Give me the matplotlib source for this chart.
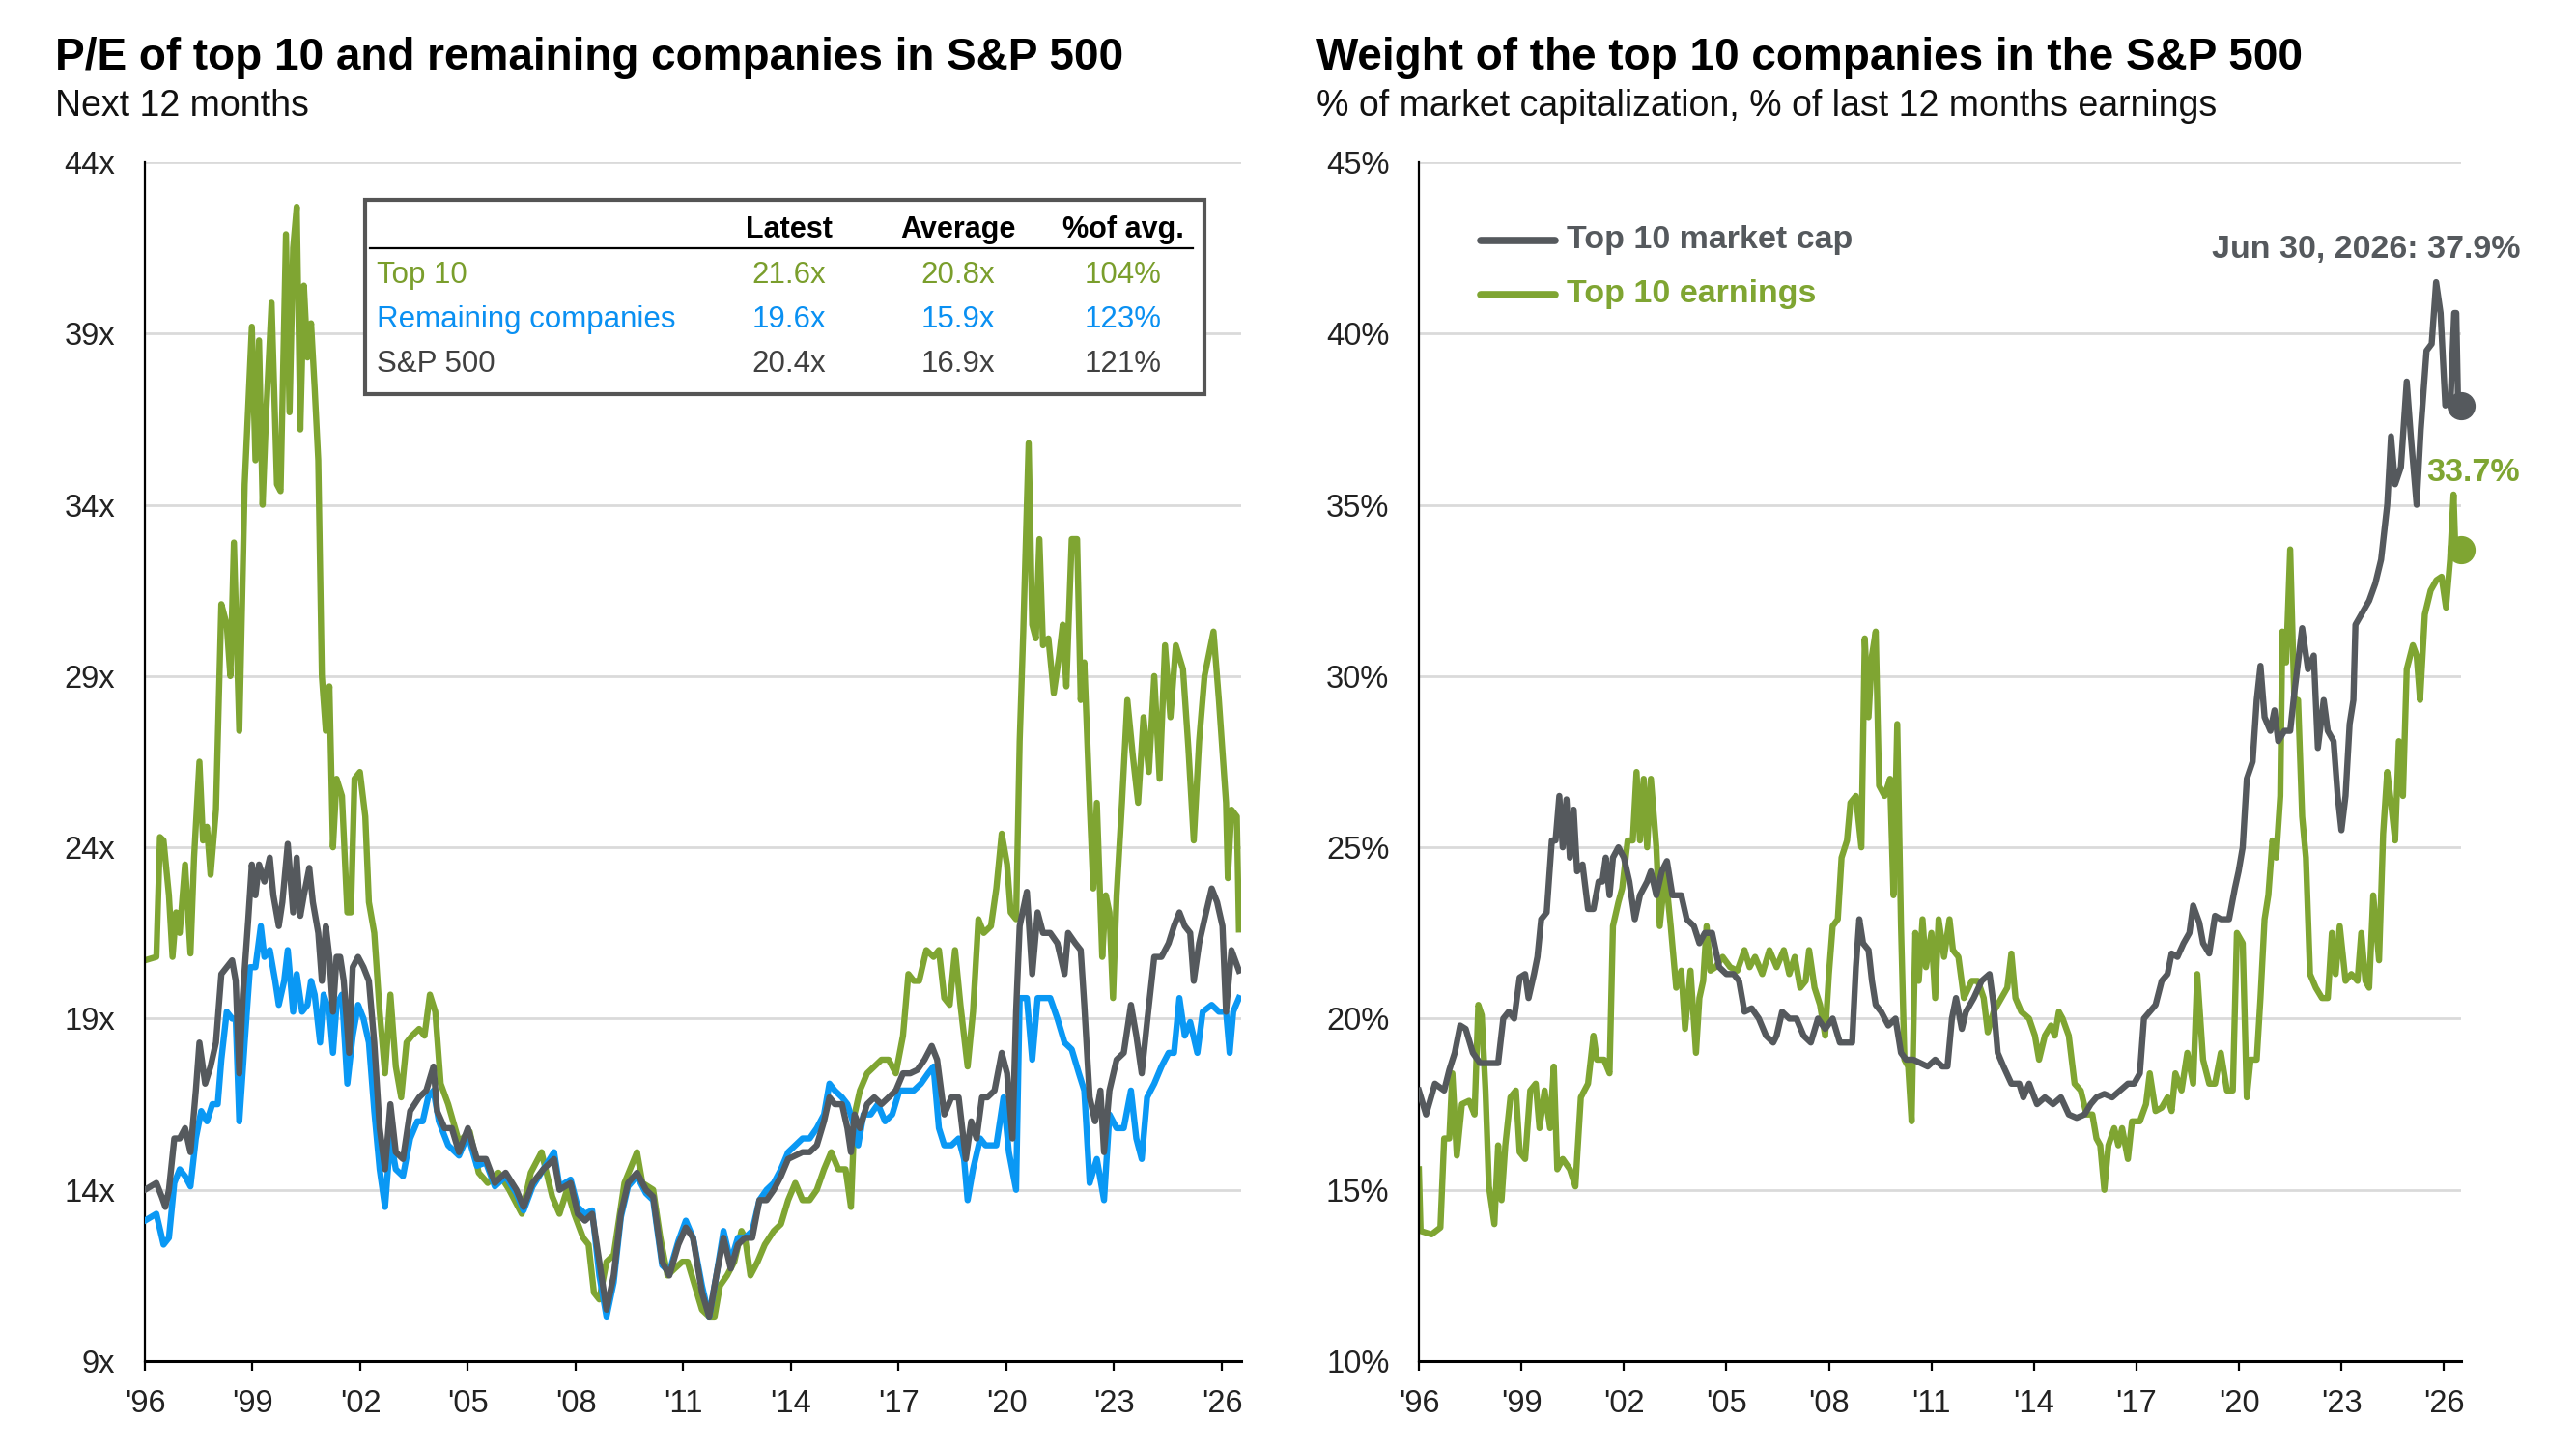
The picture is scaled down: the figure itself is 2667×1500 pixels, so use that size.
import matplotlib
matplotlib.use("Agg")
import matplotlib.pyplot as plt
from matplotlib.patches import Rectangle
from matplotlib.lines import Line2D
from matplotlib.ticker import FixedLocator, FuncFormatter

plt.rcParams['font.family'] = ['Liberation Sans', 'DejaVu Sans']

# ---------------- DATA ----------------
# Left panel: forward P/E (decimal year, value)
PE_TOP10 = [(1996.00,20.7),(1996.32,20.8),(1996.42,24.3),(1996.52,24.2),(1996.67,22.6),(1996.77,20.8),(1996.87,22.1),(1996.97,21.5),(1997.12,23.5),(1997.27,20.9),(1997.37,23.7),(1997.52,26.5),(1997.62,24.2),(1997.73,24.6),(1997.83,23.2),(1997.98,25.1),(1998.13,31.1),(1998.28,30.5),(1998.38,29.0),(1998.48,32.9),(1998.63,27.4),(1998.78,34.6),(1998.98,39.2),(1999.08,35.3),(1999.18,38.8),(1999.28,34.0),(1999.38,36.7),(1999.53,39.9),(1999.68,34.6),(1999.78,34.4),(1999.93,41.9),(2000.03,36.7),(2000.13,41.5),(2000.23,42.7),(2000.33,36.2),(2000.43,40.4),(2000.53,38.3),(2000.63,39.3),(2000.73,37.4),(2000.83,35.3),(2000.93,29.0),(2001.04,27.4),(2001.14,28.7),(2001.24,24.0),(2001.34,26.0),(2001.49,25.5),(2001.64,22.1),(2001.74,22.1),(2001.84,26.0),(2001.99,26.2),(2002.14,24.9),(2002.24,22.4),(2002.39,21.5),(2002.54,19.2),(2002.69,17.4),(2002.84,19.7),(2002.99,17.6),(2003.14,16.7),(2003.29,18.3),(2003.44,18.5),(2003.64,18.7),(2003.79,18.5),(2003.94,19.7),(2004.09,19.2),(2004.24,17.1),(2004.45,16.5),(2004.75,15.4),(2005.05,15.7),(2005.30,14.5),(2005.55,14.2),(2005.85,14.5),(2006.15,14.0),(2006.50,13.3),(2006.75,14.5),(2007.05,15.1),(2007.35,13.8),(2007.55,13.3),(2007.76,14.0),(2007.96,13.3),(2008.21,12.6),(2008.36,12.4),(2008.51,11.0),(2008.66,10.8),(2008.86,11.9),(2009.06,12.1),(2009.36,14.2),(2009.71,15.1),(2009.86,14.2),(2010.16,14.0),(2010.36,12.6),(2010.56,11.5),(2010.76,11.7),(2010.97,11.9),(2011.12,11.9),(2011.32,11.2),(2011.52,10.5),(2011.72,10.3),(2011.87,10.3),(2012.02,11.2),(2012.22,11.5),(2012.42,11.9),(2012.62,12.8),(2012.72,12.6),(2012.87,11.5),(2013.07,11.9),(2013.27,12.4),(2013.52,12.8),(2013.72,13.0),(2013.92,13.7),(2014.12,14.2),(2014.32,13.7),(2014.52,13.7),(2014.72,14.0),(2014.92,14.6),(2015.12,15.1),(2015.32,14.6),(2015.52,14.6),(2015.67,13.5),(2015.77,16.2),(2015.92,16.9),(2016.12,17.4),(2016.32,17.6),(2016.52,17.8),(2016.72,17.8),(2016.92,17.4),(2017.12,18.5),(2017.27,20.3),(2017.42,20.1),(2017.57,20.1),(2017.77,21.0),(2017.97,20.8),(2018.12,21.0),(2018.27,19.6),(2018.42,19.4),(2018.57,21.0),(2018.72,19.4),(2018.92,17.6),(2019.07,19.2),(2019.22,21.9),(2019.37,21.5),(2019.57,21.7),(2019.72,22.8),(2019.87,24.4),(2020.02,23.5),(2020.12,22.1),(2020.27,21.9),(2020.37,27.1),(2020.47,30.3),(2020.62,35.8),(2020.72,30.5),(2020.82,30.1),(2020.92,33.0),(2021.02,29.9),(2021.17,30.1),(2021.32,28.5),(2021.47,29.6),(2021.57,30.5),(2021.67,28.7),(2021.82,33.0),(2021.97,33.0),(2022.07,28.3),(2022.17,29.4),(2022.32,25.3),(2022.42,22.8),(2022.52,25.3),(2022.67,20.8),(2022.77,22.6),(2022.87,22.1),(2022.97,19.6),(2023.07,22.6),(2023.22,25.3),(2023.37,28.3),(2023.52,26.7),(2023.67,25.3),(2023.82,27.8),(2023.97,26.2),(2024.12,29.0),(2024.27,26.0),(2024.42,29.9),(2024.57,27.8),(2024.72,29.9),(2024.92,29.2),(2025.07,26.9),(2025.22,24.2),(2025.37,27.1),(2025.52,29.0),(2025.77,30.3),(2025.92,28.3),(2026.12,25.3),(2026.17,23.1),(2026.27,25.1),(2026.42,24.9),(2026.48,21.6)]

PE_REMAINING = [(1996.00,13.1),(1996.32,13.3),(1996.52,12.4),(1996.67,12.6),(1996.82,14.2),(1996.97,14.6),(1997.12,14.4),(1997.27,14.1),(1997.42,15.5),(1997.57,16.3),(1997.73,16.0),(1997.88,16.5),(1998.03,16.5),(1998.13,17.8),(1998.28,19.2),(1998.43,19.0),(1998.53,19.0),(1998.63,16.0),(1998.78,18.3),(1998.93,20.5),(1999.08,20.5),(1999.23,21.7),(1999.33,20.8),(1999.48,21.0),(1999.63,20.1),(1999.73,19.4),(1999.88,20.1),(1999.98,21.0),(2000.13,19.2),(2000.23,20.3),(2000.38,19.2),(2000.53,19.4),(2000.63,20.1),(2000.73,19.7),(2000.88,18.3),(2000.98,19.7),(2001.14,19.2),(2001.24,18.0),(2001.34,19.4),(2001.49,19.7),(2001.64,17.1),(2001.79,18.5),(2001.94,19.4),(2002.09,19.0),(2002.24,18.3),(2002.39,16.3),(2002.54,14.6),(2002.69,13.5),(2002.84,15.5),(2002.99,14.6),(2003.19,14.4),(2003.39,15.5),(2003.59,16.0),(2003.74,16.0),(2003.89,16.7),(2004.04,16.9),(2004.19,16.0),(2004.45,15.3),(2004.75,15.0),(2005.00,15.6),(2005.25,14.7),(2005.50,14.8),(2005.75,14.1),(2006.05,14.4),(2006.35,13.9),(2006.55,13.4),(2006.80,14.1),(2007.10,14.6),(2007.40,15.1),(2007.55,14.1),(2007.86,14.3),(2008.06,13.5),(2008.26,13.3),(2008.46,13.4),(2008.66,11.5),(2008.86,10.3),(2009.06,11.3),(2009.26,13.2),(2009.46,14.1),(2009.71,14.4),(2009.96,13.9),(2010.16,13.7),(2010.41,11.8),(2010.61,11.6),(2010.86,12.5),(2011.07,13.1),(2011.27,12.6),(2011.52,11.2),(2011.72,10.3),(2011.92,11.5),(2012.12,12.8),(2012.32,11.9),(2012.52,12.6),(2012.72,12.6),(2012.92,12.8),(2013.12,13.7),(2013.32,14.0),(2013.52,14.2),(2013.72,14.6),(2013.92,15.1),(2014.12,15.3),(2014.32,15.5),(2014.52,15.5),(2014.72,15.8),(2014.92,16.2),(2015.07,17.1),(2015.22,16.9),(2015.42,16.7),(2015.57,16.5),(2015.72,16.0),(2015.87,15.3),(2016.02,16.2),(2016.22,16.2),(2016.42,16.5),(2016.62,16.0),(2016.82,16.2),(2017.02,16.9),(2017.22,16.9),(2017.42,16.9),(2017.62,17.1),(2017.82,17.4),(2017.97,17.6),(2018.12,15.8),(2018.27,15.3),(2018.47,15.3),(2018.67,15.5),(2018.82,14.9),(2018.92,13.7),(2019.07,14.6),(2019.27,15.5),(2019.42,15.3),(2019.57,15.3),(2019.72,15.3),(2019.92,16.7),(2020.07,15.1),(2020.27,14.0),(2020.37,19.6),(2020.57,19.6),(2020.72,17.8),(2020.87,19.6),(2021.02,19.6),(2021.22,19.6),(2021.42,19.0),(2021.62,18.3),(2021.82,18.1),(2022.02,17.4),(2022.17,16.9),(2022.32,14.2),(2022.52,14.9),(2022.72,13.7),(2022.87,16.2),(2023.07,15.8),(2023.27,15.8),(2023.47,16.9),(2023.62,15.5),(2023.77,14.9),(2023.92,16.7),(2024.12,17.1),(2024.32,17.6),(2024.52,18.0),(2024.67,18.0),(2024.82,19.6),(2024.97,18.5),(2025.12,18.9),(2025.32,18.0),(2025.47,19.2),(2025.72,19.4),(2025.92,19.2),(2026.12,19.2),(2026.22,18.0),(2026.32,19.2),(2026.48,19.6)]

PE_SP500 = [(1996.00,14.0),(1996.32,14.2),(1996.47,13.8),(1996.57,13.5),(1996.67,14.0),(1996.82,15.5),(1996.97,15.5),(1997.12,15.8),(1997.27,15.1),(1997.42,16.9),(1997.52,18.3),(1997.68,17.1),(1997.83,17.6),(1997.98,18.3),(1998.13,20.3),(1998.28,20.5),(1998.43,20.7),(1998.53,20.1),(1998.63,17.4),(1998.73,19.7),(1998.88,21.9),(1998.98,23.5),(1999.08,22.6),(1999.18,23.5),(1999.33,23.0),(1999.48,23.7),(1999.58,22.6),(1999.73,21.7),(1999.83,22.4),(1999.98,24.1),(2000.13,22.1),(2000.23,23.7),(2000.33,22.0),(2000.43,22.6),(2000.58,23.4),(2000.68,22.4),(2000.83,21.5),(2000.93,20.1),(2001.04,21.7),(2001.14,20.8),(2001.24,19.2),(2001.34,20.8),(2001.44,20.8),(2001.54,20.1),(2001.69,18.0),(2001.79,20.5),(2001.94,20.8),(2002.09,20.5),(2002.24,20.1),(2002.39,18.3),(2002.54,15.8),(2002.69,14.6),(2002.84,16.5),(2002.99,15.1),(2003.19,14.9),(2003.39,16.3),(2003.64,16.7),(2003.84,16.9),(2004.04,17.6),(2004.14,16.3),(2004.35,15.8),(2004.55,15.8),(2004.75,15.1),(2005.00,15.8),(2005.25,14.9),(2005.50,14.9),(2005.75,14.2),(2006.05,14.5),(2006.35,14.0),(2006.55,13.5),(2006.80,14.2),(2007.10,14.6),(2007.40,14.9),(2007.55,14.0),(2007.86,14.2),(2008.06,13.3),(2008.26,13.1),(2008.46,13.3),(2008.66,11.9),(2008.86,10.5),(2009.06,11.5),(2009.26,13.3),(2009.46,14.2),(2009.71,14.5),(2009.96,14.0),(2010.16,13.8),(2010.41,11.9),(2010.61,11.5),(2010.86,12.4),(2011.07,12.9),(2011.27,12.6),(2011.52,11.0),(2011.72,10.3),(2011.92,11.5),(2012.12,12.6),(2012.32,11.7),(2012.52,12.4),(2012.72,12.6),(2012.92,12.6),(2013.12,13.7),(2013.32,13.7),(2013.52,14.0),(2013.72,14.4),(2013.92,14.9),(2014.12,15.0),(2014.32,15.1),(2014.52,15.1),(2014.72,15.3),(2014.92,16.0),(2015.07,16.7),(2015.22,16.5),(2015.42,16.5),(2015.57,15.8),(2015.67,15.1),(2015.77,16.2),(2015.92,15.8),(2016.12,16.5),(2016.32,16.7),(2016.52,16.5),(2016.72,16.7),(2016.92,16.9),(2017.12,17.4),(2017.32,17.4),(2017.52,17.5),(2017.72,17.8),(2017.92,18.2),(2018.07,17.8),(2018.27,16.2),(2018.47,16.7),(2018.67,16.7),(2018.87,14.9),(2019.02,16.0),(2019.17,15.5),(2019.32,16.7),(2019.47,16.7),(2019.67,16.9),(2019.87,18.0),(2020.02,17.4),(2020.17,15.5),(2020.27,19.2),(2020.37,21.7),(2020.57,22.7),(2020.72,20.3),(2020.87,22.1),(2021.02,21.5),(2021.22,21.5),(2021.42,21.2),(2021.62,20.3),(2021.72,21.5),(2021.92,21.2),(2022.07,21.0),(2022.17,19.4),(2022.32,16.7),(2022.47,16.0),(2022.62,16.9),(2022.72,15.1),(2022.87,16.9),(2023.07,17.8),(2023.27,18.0),(2023.47,19.4),(2023.62,18.5),(2023.77,17.4),(2023.92,18.9),(2024.12,20.8),(2024.32,20.8),(2024.52,21.2),(2024.67,21.7),(2024.82,22.1),(2024.97,21.7),(2025.12,21.5),(2025.22,20.1),(2025.37,21.2),(2025.52,21.9),(2025.72,22.8),(2025.87,22.4),(2026.02,21.7),(2026.12,19.2),(2026.27,21.0),(2026.48,20.4)]

# Right panel: weight of top 10 (decimal year, %)
W_MKTCAP = [(1996.00,17.9),(1996.21,17.2),(1996.47,18.1),(1996.74,17.9),(1996.89,18.5),(1997.05,19.0),(1997.21,19.8),(1997.37,19.7),(1997.58,19.0),(1997.79,18.7),(1998.00,18.7),(1998.32,18.7),(1998.47,20.0),(1998.63,20.2),(1998.79,20.0),(1998.95,21.2),(1999.11,21.3),(1999.21,20.6),(1999.37,21.3),(1999.47,21.8),(1999.58,22.9),(1999.74,23.1),(1999.89,25.2),(2000.00,25.2),(2000.11,26.5),(2000.21,25.0),(2000.32,26.4),(2000.42,24.7),(2000.53,26.1),(2000.63,24.3),(2000.79,24.5),(2000.95,23.2),(2001.11,23.2),(2001.26,24.0),(2001.37,24.0),(2001.47,24.7),(2001.58,23.6),(2001.68,24.7),(2001.84,25.0),(2002.00,24.7),(2002.16,24.0),(2002.32,22.9),(2002.47,23.6),(2002.68,24.0),(2002.79,24.3),(2002.95,23.6),(2003.11,24.3),(2003.26,24.6),(2003.42,23.6),(2003.68,23.6),(2003.84,22.9),(2004.05,22.7),(2004.21,22.2),(2004.37,22.5),(2004.58,22.5),(2004.79,21.5),(2005.00,21.3),(2005.21,21.3),(2005.37,21.1),(2005.53,20.2),(2005.74,20.3),(2005.95,20.0),(2006.16,19.5),(2006.37,19.3),(2006.47,19.5),(2006.63,20.2),(2006.84,20.0),(2007.05,20.0),(2007.26,19.5),(2007.47,19.3),(2007.68,20.0),(2007.89,19.7),(2008.11,20.0),(2008.32,19.3),(2008.53,19.3),(2008.68,19.3),(2008.79,21.5),(2008.89,22.9),(2009.00,22.2),(2009.16,22.0),(2009.26,21.1),(2009.37,20.4),(2009.53,20.2),(2009.74,19.8),(2009.95,20.0),(2010.11,19.0),(2010.26,18.8),(2010.47,18.8),(2010.68,18.7),(2010.89,18.6),(2011.11,18.8),(2011.32,18.6),(2011.47,18.6),(2011.60,20.0),(2011.72,20.6),(2011.89,19.7),(2012.01,20.2),(2012.24,20.6),(2012.47,21.1),(2012.70,21.3),(2012.82,20.4),(2012.94,19.0),(2013.11,18.6),(2013.34,18.1),(2013.57,18.1),(2013.69,17.7),(2013.86,18.1),(2014.09,17.5),(2014.32,17.7),(2014.56,17.5),(2014.79,17.7),(2015.02,17.2),(2015.25,17.1),(2015.48,17.2),(2015.66,17.5),(2015.83,17.7),(2016.06,17.8),(2016.29,17.7),(2016.52,17.9),(2016.75,18.1),(2016.93,18.1),(2017.10,18.4),(2017.22,20.0),(2017.39,20.2),(2017.56,20.4),(2017.74,21.1),(2017.91,21.3),(2018.03,21.9),(2018.20,21.8),(2018.38,22.2),(2018.55,22.5),(2018.66,23.3),(2018.84,22.8),(2018.95,22.2),(2019.13,21.9),(2019.30,23.0),(2019.47,22.9),(2019.71,22.9),(2019.88,23.8),(2019.99,24.3),(2020.11,25.0),(2020.23,27.0),(2020.40,27.5),(2020.52,29.3),(2020.63,30.3),(2020.75,28.8),(2020.92,28.4),(2021.04,29.0),(2021.15,28.1),(2021.33,28.4),(2021.50,28.4),(2021.62,29.5),(2021.85,31.4),(2022.02,30.2),(2022.19,30.6),(2022.31,27.9),(2022.48,29.3),(2022.60,28.4),(2022.77,28.1),(2022.89,26.5),(2023.00,25.5),(2023.12,26.5),(2023.24,28.6),(2023.35,29.3),(2023.41,31.5),(2023.58,31.8),(2023.81,32.2),(2023.99,32.7),(2024.16,33.4),(2024.34,35.0),(2024.45,37.0),(2024.57,35.6),(2024.74,36.1),(2024.91,38.6),(2025.03,37.0),(2025.20,35.0),(2025.32,37.2),(2025.49,39.5),(2025.64,39.7),(2025.77,41.5),(2025.90,40.6),(2026.04,37.9),(2026.20,38.2),(2026.30,40.6),(2026.36,40.6),(2026.41,38.1),(2026.49,37.9)]

W_EARNINGS = [(1996.00,15.6),(1996.05,13.8),(1996.37,13.7),(1996.63,13.9),(1996.74,16.5),(1996.89,16.5),(1996.98,18.4),(1997.11,16.0),(1997.26,17.5),(1997.47,17.6),(1997.63,17.2),(1997.74,20.4),(1997.84,20.1),(1997.95,17.9),(1998.05,15.1),(1998.21,14.0),(1998.32,16.3),(1998.42,14.7),(1998.53,16.3),(1998.68,17.7),(1998.84,17.9),(1998.95,16.1),(1999.11,15.9),(1999.26,17.9),(1999.42,18.1),(1999.53,16.8),(1999.68,17.9),(1999.84,16.8),(1999.95,18.6),(2000.05,15.6),(2000.21,15.9),(2000.42,15.6),(2000.58,15.1),(2000.74,17.7),(2000.95,18.1),(2001.11,19.5),(2001.21,18.8),(2001.42,18.8),(2001.58,18.4),(2001.68,22.7),(2001.84,23.4),(2001.95,23.8),(2002.11,25.2),(2002.26,25.2),(2002.37,27.2),(2002.47,25.2),(2002.58,27.0),(2002.68,25.0),(2002.79,27.0),(2002.95,25.0),(2003.05,22.7),(2003.21,24.3),(2003.37,22.7),(2003.53,20.9),(2003.68,21.4),(2003.79,19.7),(2003.95,21.4),(2004.11,19.0),(2004.21,20.6),(2004.32,21.1),(2004.42,22.7),(2004.53,21.4),(2004.68,21.5),(2004.89,21.8),(2005.11,21.5),(2005.32,21.4),(2005.53,22.0),(2005.68,21.5),(2005.84,21.8),(2006.05,21.3),(2006.26,22.0),(2006.47,21.5),(2006.68,22.0),(2006.84,21.3),(2007.00,21.8),(2007.16,20.9),(2007.32,21.1),(2007.42,22.0),(2007.58,20.9),(2007.74,20.4),(2007.89,19.5),(2008.00,21.3),(2008.11,22.7),(2008.26,22.9),(2008.37,24.7),(2008.53,25.2),(2008.63,26.3),(2008.79,26.5),(2008.95,25.0),(2009.05,31.1),(2009.16,28.8),(2009.26,30.6),(2009.37,31.3),(2009.47,26.8),(2009.63,26.5),(2009.79,27.0),(2009.89,23.6),(2010.00,28.6),(2010.11,22.7),(2010.21,18.8),(2010.32,18.6),(2010.42,17.0),(2010.53,22.5),(2010.63,21.1),(2010.74,22.9),(2010.84,21.5),(2011.00,22.5),(2011.11,20.6),(2011.21,22.9),(2011.37,21.8),(2011.53,22.9),(2011.63,22.0),(2011.79,21.8),(2011.95,20.6),(2012.18,21.1),(2012.36,21.1),(2012.53,20.6),(2012.65,19.6),(2012.82,20.2),(2013.05,20.6),(2013.22,20.9),(2013.34,21.9),(2013.46,20.6),(2013.63,20.2),(2013.86,20.0),(2014.03,19.5),(2014.15,18.8),(2014.32,19.5),(2014.50,19.8),(2014.61,19.5),(2014.73,20.2),(2014.84,20.0),(2015.02,19.5),(2015.19,18.1),(2015.37,17.9),(2015.54,17.2),(2015.71,17.2),(2015.83,16.5),(2015.94,16.3),(2016.06,15.0),(2016.18,16.3),(2016.35,16.8),(2016.47,16.3),(2016.58,16.8),(2016.75,15.9),(2016.87,17.0),(2017.10,17.0),(2017.28,17.5),(2017.39,18.4),(2017.56,17.3),(2017.74,17.4),(2017.91,17.7),(2018.03,17.3),(2018.14,18.4),(2018.32,17.9),(2018.49,19.0),(2018.66,18.1),(2018.78,21.3),(2018.95,18.8),(2019.13,18.1),(2019.30,18.1),(2019.47,19.0),(2019.65,17.9),(2019.82,17.9),(2019.94,22.5),(2020.11,22.2),(2020.23,17.7),(2020.34,18.8),(2020.52,18.8),(2020.63,20.6),(2020.75,22.9),(2020.86,23.6),(2020.98,25.2),(2021.09,24.7),(2021.21,26.5),(2021.27,31.3),(2021.38,30.4),(2021.50,33.7),(2021.62,29.3),(2021.73,29.3),(2021.85,25.9),(2021.96,24.7),(2022.08,21.3),(2022.25,20.9),(2022.43,20.6),(2022.60,20.6),(2022.72,22.5),(2022.83,21.3),(2022.95,22.7),(2023.12,21.1),(2023.29,21.3),(2023.47,21.1),(2023.58,22.5),(2023.70,21.1),(2023.81,20.9),(2023.93,23.6),(2024.10,21.7),(2024.22,25.4),(2024.34,27.2),(2024.45,26.3),(2024.57,25.2),(2024.68,28.1),(2024.80,26.5),(2024.91,30.2),(2025.09,30.9),(2025.20,30.6),(2025.30,29.3),(2025.44,31.8),(2025.61,32.5),(2025.78,32.8),(2025.93,32.9),(2026.06,32.0),(2026.18,33.4),(2026.28,35.3),(2026.34,33.5),(2026.49,33.7)]

TABLE_ROWS = ["Top 10", "Remaining companies", "S&P 500"]
TABLE_COLS = ["Latest", "Average", "%of avg."]
TABLE_LATEST = ["21.6x", "19.6x", "20.4x"]
TABLE_AVERAGE = ["20.8x", "15.9x", "16.9x"]
TABLE_PCT = ["104%", "123%", "121%"]

LEFT_YTICKS = [9, 14, 19, 24, 29, 34, 39, 44]
RIGHT_YTICKS = [10, 15, 20, 25, 30, 35, 40, 45]
XTICK_YEARS = [1996, 1999, 2002, 2005, 2008, 2011, 2014, 2017, 2020, 2023, 2026]

LATEST_LABEL_MKTCAP = "Jun 30, 2026: 37.9%"
LATEST_LABEL_EARN = "33.7%"

# ---------------- STYLE ----------------
GREEN = "#7FA532"
BLUE = "#0A98F4"
GRAY = "#55595D"
GRID = "#DADADA"
W, H = 2667, 1500

def fx(px):
    return px / W

def fy(py):
    return 1 - py / H

fig = plt.figure(figsize=(W / 100, H / 100), dpi=100)
fig.patch.set_facecolor("white")

axL = fig.add_axes([fx(150), fy(1409), fx(1285) - fx(150), fy(168) - fy(1409)])
axR = fig.add_axes([fx(1469), fy(1409), fx(2548) - fx(1469), fy(168) - fy(1409)])

def unzip(pairs):
    return [p[0] for p in pairs], [p[1] for p in pairs]

LW = 4.6

def style_axis(ax, yticks, fmt):
    ax.set_ylim(yticks[0], yticks[-1])
    ax.yaxis.set_major_locator(FixedLocator(yticks))
    ax.yaxis.set_major_formatter(FuncFormatter(fmt))
    ax.xaxis.set_major_locator(FixedLocator(XTICK_YEARS))
    ax.xaxis.set_major_formatter(FuncFormatter(lambda v, p: "'" + str(int(round(v)))[2:]))
    for s in ["top", "right"]:
        ax.spines[s].set_visible(False)
    ax.spines["left"].set_color("#000000")
    ax.spines["left"].set_linewidth(1.6)
    ax.spines["bottom"].set_color("#000000")
    ax.spines["bottom"].set_linewidth(2.2)
    ax.grid(axis="y", color=GRID, linewidth=2.0, zorder=0)
    ax.set_axisbelow(True)
    ax.tick_params(axis="y", length=0, pad=22, labelsize=23.5, labelcolor="#222222")
    ax.tick_params(axis="x", direction="out", length=7, width=1.6, pad=14,
                   labelsize=23.5, labelcolor="#222222")

# ---- Left panel ----
x, y = unzip(PE_TOP10)
axL.plot(x, y, color=GREEN, lw=LW, solid_joinstyle="round", zorder=2)
x, y = unzip(PE_REMAINING)
axL.plot(x, y, color=BLUE, lw=LW, solid_joinstyle="round", zorder=3)
x, y = unzip(PE_SP500)
axL.plot(x, y, color=GRAY, lw=LW, solid_joinstyle="round", zorder=4)
axL.set_xlim(1996, 2026.54)
style_axis(axL, LEFT_YTICKS, lambda v, p: f"{int(v)}x")

# ---- Right panel ----
x, y = unzip(W_EARNINGS)
axR.plot(x, y, color=GREEN, lw=LW, solid_joinstyle="round", zorder=2)
axR.plot([x[-1]], [y[-1]], "o", color=GREEN, ms=20, zorder=5, clip_on=False)
x, y = unzip(W_MKTCAP)
axR.plot(x, y, color=GRAY, lw=LW, solid_joinstyle="round", zorder=3)
axR.plot([x[-1]], [y[-1]], "o", color=GRAY, ms=20, zorder=5, clip_on=False)
axR.set_xlim(1996, 2026.5)
style_axis(axR, RIGHT_YTICKS, lambda v, p: f"{int(v)}%")

# ---- Titles ----
fig.text(fx(57), fy(72), "P/E of top 10 and remaining companies in S&P 500",
         fontsize=33, fontweight="bold", color="#000000", va="baseline", ha="left")
fig.text(fx(57), fy(120), "Next 12 months", fontsize=27, color="#111111",
         va="baseline", ha="left")
fig.text(fx(1363), fy(72), "Weight of the top 10 companies in the S&P 500",
         fontsize=33, fontweight="bold", color="#000000", va="baseline", ha="left")
fig.text(fx(1363), fy(120), "% of market capitalization, % of last 12 months earnings",
         fontsize=27, color="#111111", va="baseline", ha="left")

# ---- Table on the left panel ----
box = Rectangle((fx(378), fy(408)), fx(1247) - fx(378), fy(207) - fy(408),
                transform=fig.transFigure, facecolor="white", edgecolor="#555555",
                linewidth=3.0, zorder=10)
fig.patches.append(box)
fig.add_artist(Line2D([fx(383), fx(1235)], [fy(257), fy(257)], color="#000000",
                      linewidth=1.6, transform=fig.transFigure, zorder=11))
col_centers = [817, 992, 1163]
for cx, name in zip(col_centers, TABLE_COLS):
    fig.text(fx(cx), fy(246), name, fontsize=22, fontweight="bold", color="#000000",
             ha="center", va="baseline", zorder=12)
row_colors = ["#7A9E2C", "#0A90F2", "#404040"]
row_base = [293, 339, 385]
for i, (name, c, by) in enumerate(zip(TABLE_ROWS, row_colors, row_base)):
    fig.text(fx(390), fy(by), name, fontsize=22.5, color=c, ha="left", va="baseline", zorder=12)
    for cx, val in zip(col_centers, [TABLE_LATEST[i], TABLE_AVERAGE[i], TABLE_PCT[i]]):
        fig.text(fx(cx), fy(by), val, fontsize=22.5, color=c, ha="center",
                 va="baseline", zorder=12)

# ---- Legend on the right panel ----
for (ly, label, c) in [(249, "Top 10 market cap", GRAY), (305, "Top 10 earnings", GREEN)]:
    fig.add_artist(Line2D([fx(1533), fx(1610)], [fy(ly), fy(ly)], color=c, linewidth=5.5,
                          solid_capstyle="round", transform=fig.transFigure))
    fig.text(fx(1622), fy(ly), label, fontsize=24.5, fontweight="bold", color=c,
             ha="left", va="center")

# ---- Latest value annotations ----
fig.text(fx(2609), fy(258), LATEST_LABEL_MKTCAP, fontsize=24.5, fontweight="bold",
         color=GRAY, ha="right", va="center")
fig.text(fx(2609), fy(489), LATEST_LABEL_EARN, fontsize=24.5, fontweight="bold",
         color=GREEN, ha="right", va="center")

fig.savefig("out.png", dpi=100, facecolor="white")
